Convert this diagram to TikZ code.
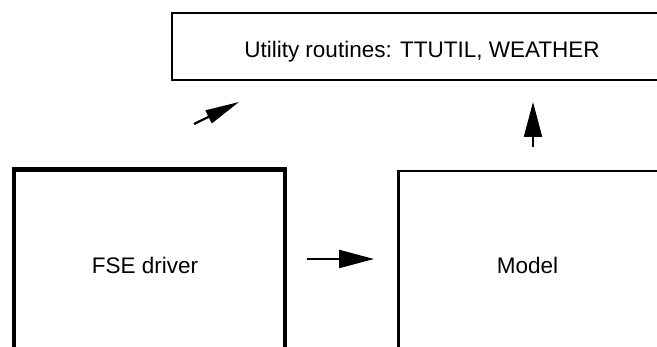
\documentclass[tikz,border=0pt]{standalone}
\usepackage{fontspec}
\setmainfont{Liberation Sans}
\usetikzlibrary{arrows.meta,positioning}

\begin{document}
\begin{tikzpicture}[x=1pt,y=1pt,
    block/.style ={draw, line width=2.2pt, inner sep=0pt, outer sep=0pt},
    mainblock/.style ={block, line width=4.3pt},
    blocktext/.style ={font=\fontsize{22.5}{27}\selectfont, anchor=base, inner sep=0pt},
    flow/.style ={line width=2.2pt, -{Triangle[length=35pt,width=18pt]}}]
   \useasboundingbox (0,0) rectangle (657,346);
   \clip (0,0) rectangle (657,346);
   % boxes (the lower two and the top one run off the page)
   \node[block, minimum width=500, minimum height=67.2] (util) at (422,299.6) {};
   \node[mainblock, minimum width=271.2, minimum height=220] (driver) at (149.4,66.5) {};
   \node[block, minimum width=300, minimum height=220] (model) at (548.5,65) {};
   \node[blocktext] (utiltext) at (422,288) {Utility routines: TTUTIL, WEATHER};
   \node[blocktext] (drivertext) at (145,72.7) {FSE driver};
   \node[blocktext] (modeltext) at (527.5,72.7) {Model};
   % calls
   \coordinate (h) at (0,87);
   \coordinate (v) at (533,0);
   \draw[flow, shorten <=22pt, shorten >=24.5pt] (driver.east |- h) -- (model.west |- h);
   \draw[flow, shorten <=24pt, shorten >=22pt] (model.north -| v) -- (util.south -| v);
   \draw[flow, -{Triangle[length=34pt,width=14pt]}, shorten <=103.5pt, shorten >=50pt]
      ([xshift=-48.4]driver.north) -- ([xshift=-138]util.south);
 \end{tikzpicture}
\end{document}
